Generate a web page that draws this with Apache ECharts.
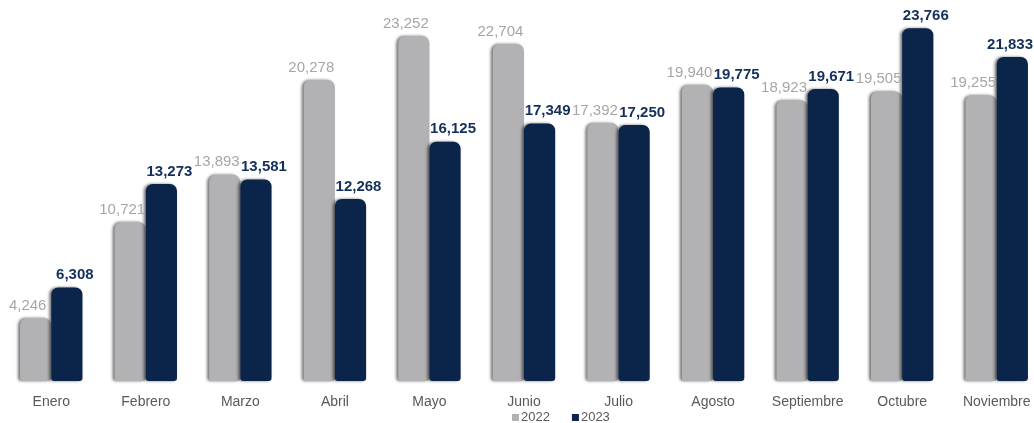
<!DOCTYPE html>
<html>
<head>
<meta charset="utf-8">
<script src="https://cdn.jsdelivr.net/npm/echarts@6/dist/echarts.min.js"></script>
<style>
  html, body { margin: 0; padding: 0; background: #fff; }
  #chart { width: 1034px; height: 423px; }
</style>
</head>
<body>
<div id="chart"></div>
<script>
  // datos
  const months = ['Enero', 'Febrero', 'Marzo', 'Abril', 'Mayo', 'Junio', 'Julio', 'Agosto', 'Septiembre', 'Octubre', 'Noviembre']
  const values2022 = [4246, 10721, 13893, 20278, 23252, 22704, 17392, 19940, 18923, 19505, 19255]
  const values2023 = [6308, 13273, 13581, 12268, 16125, 17349, 17250, 19775, 19671, 23766, 21833]

  const fmt = (p) => p.value.toLocaleString('en-US')

  // separar etiquetas y mantenerlas dentro del lienzo
  const shiftLabel = (shift) => (p) => {
    const r = p.labelRect
    const maxShift = 1033 - r.x - r.width
    return { dx: Math.min(shift, maxShift) }
  }

  const myChart = echarts.init(document.getElementById('chart'))

  const barShadow = {
    borderRadius: [7, 7, 3, 3],
    shadowColor: 'rgba(0,0,0,0.55)',
    shadowBlur: 3,
    shadowOffsetX: -2,
    shadowOffsetY: 0,
  }

  const option = {
    animation: false,
    textStyle: { fontFamily: 'Liberation Sans, Arial, sans-serif' },
    grid: { left: 4, width: 1040, top: 10, bottom: 42, containLabel: false, outerBoundsMode: 'none' },
    legend: {
      data: ['2022', '2023'],
      top: 406,
      left: 507,
      itemWidth: 7,
      itemHeight: 7,
      itemGap: 22,
      icon: 'rect',
      textStyle: { color: '#595959', fontSize: 13, padding: [0, 0, 0, -3] },
    },
    xAxis: {
      type: 'category',
      data: months,
      axisLine: { show: false },
      axisTick: { show: false },
      axisLabel: { color: '#595959', fontSize: 14, margin: 14 },
    },
    yAxis: {
      type: 'value',
      min: 0,
      max: 25000,
      show: false,
      splitLine: { show: false },
    },
    series: [
      {
        name: '2022',
        type: 'bar',
        data: values2022,
        barGap: '0%',
        barCategoryGap: '34%',
        itemStyle: { color: '#b2b2b4', ...barShadow },
        label: {
          show: true,
          position: 'top',
          distance: 5,
          color: '#a6a6a6',
          fontSize: 15,
          formatter: fmt,
        },
        labelLayout: shiftLabel(-8),
      },
      {
        name: '2023',
        type: 'bar',
        data: values2023,
        itemStyle: { color: '#0b2449', ...barShadow },
        label: {
          show: true,
          position: 'top',
          distance: 5,
          color: '#14305a',
          fontSize: 15,
          fontWeight: 'bold',
          formatter: fmt,
        },
        labelLayout: shiftLabel(8),
      },
    ],
  }

  myChart.setOption(option)
</script>
</body>
</html>
